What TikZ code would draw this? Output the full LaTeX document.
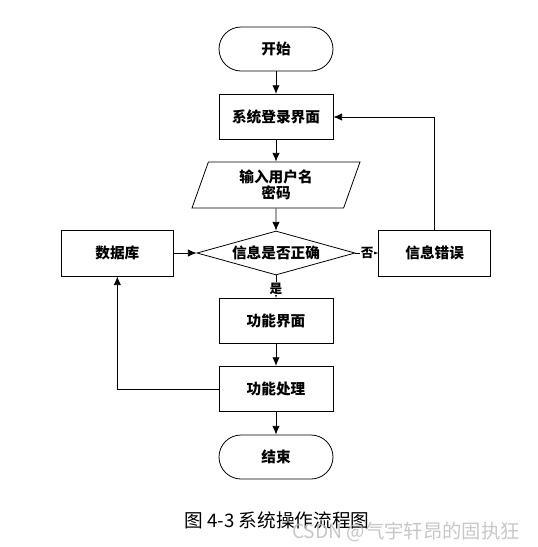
\documentclass[tikz,border=0pt]{standalone}
\usepackage{fontspec}
\setmainfont{Noto Sans CJK SC}
\usetikzlibrary{shapes,arrows,arrows.meta}

\begin{document}
\begin{tikzpicture}[auto, node distance=51pt, >={Latex[length=6.5pt,width=5.5pt]},
    x=0.75pt, y=-0.75pt, font=\fontsize{11pt}{14pt}\selectfont\bfseries, semithick]
\tikzstyle{block} = [draw, rectangle, minimum height=34pt, minimum width=85.5pt]
\tikzstyle{terminal} = [draw, rectangle, rounded corners=16.5pt,
    minimum height=33pt, minimum width=85.5pt]
\tikzstyle{io} = [draw, trapezium, trapezium left angle=63.4,
    trapezium right angle=116.6, trapezium stretches body,
    minimum height=34.5pt, minimum width=126pt, inner sep=1pt, align=center]
\tikzstyle{decision} = [draw, diamond, aspect=3.6, inner sep=0pt,
    minimum height=33pt, minimum width=118.5pt]
\tikzstyle{answer} = [fill=white, inner sep=0.5pt, auto=false,
    font=\fontsize{9.5pt}{11pt}\selectfont\bfseries]
    \useasboundingbox (0,0) rectangle (537,547);
    % The main column of the flow
    \node [terminal] (start) at (276,49) {开始};
    \node [block, below of=start] (login) {系统登录界面};
    \node [io, below of=login] (input) {输入用户名\\[-2pt]密码};
    \node [decision, below of=input] (check) {信息是否正确};
    \node [block, below of=check] (menu) {功能界面};
    \node [block, below of=menu] (process) {功能处理};
    \node [terminal, below of=process] (stop) {结束};
    % Side blocks next to the decision
    \node [block, left of=check, node distance=119pt, minimum height=34.5pt,
        minimum width=84pt] (db) {数据库};
    \node [block, right of=check, node distance=119pt, minimum height=34.5pt,
        minimum width=84pt] (error) {信息错误};

    % Connecting them
    \draw [->] (start) -- (login);
    \draw [->] (login) -- (input);
    \draw [->] (input) -- (check);
    \draw [->] (db) -- (check);
    \draw [->] (check) -- node[answer, pos=0.52] {否} (error);
    \draw [->] (check) -- node[answer, pos=0.6] {是} (menu);
    \draw [->] (menu) -- (process);
    \draw [->] (process) -- (stop);
    \draw [->] (process.west) -| (db.south);
    \draw [->] (error.north) |- (login.east);

    % Caption and watermark
    \node [font=\fontsize{14pt}{16pt}\selectfont] (caption) at (277,520)
        {图 4-3 系统操作流程图};
    \node [text=gray!55, opacity=0.8, font=\fontsize{14.5pt}{16pt}\selectfont]
        (mark) at (406,532) {CSDN @气宇轩昂的固执狂};
\end{tikzpicture}
\end{document}
